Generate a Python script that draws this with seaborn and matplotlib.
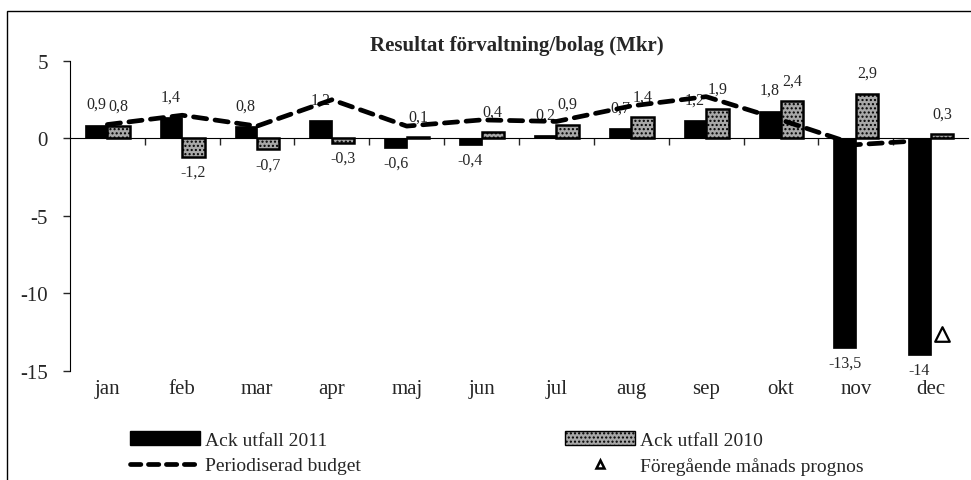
import pandas as pd
import matplotlib
matplotlib.use("Agg")
import matplotlib.pyplot as plt
import seaborn as sns
from matplotlib.patches import Patch, Rectangle
from matplotlib.lines import Line2D

# data
months = ['jan', 'feb', 'mar', 'apr', 'maj', 'jun', 'jul', 'aug', 'sep', 'okt', 'nov', 'dec']
utfall_2011 = [0.9, 1.4, 0.8, 1.2, -0.6, -0.4, 0.2, 0.7, 1.2, 1.8, -13.5, -14]
utfall_2010 = [0.8, -1.2, -0.7, -0.3, 0.1, 0.4, 0.9, 1.4, 1.9, 2.4, 2.9, 0.3]
budget = [0.9, 1.5, 0.8, 2.5, 0.8, 1.2, 1.1, 2.1, 2.7, 1.2, -0.4, -0.1]
prognos_month = ['dec']
prognos_value = [-12.6]

series = ['Ack utfall 2011', 'Ack utfall 2010']

df = pd.DataFrame({
    'month': months * 2,
    'serie': [series[0]] * 12 + [series[1]] * 12,
    'value': utfall_2011 + utfall_2010,
})

sns.set_style('white')
plt.rcParams['font.family'] = ['Liberation Serif', 'DejaVu Serif']

fig = plt.figure(figsize=(9.71, 4.81), dpi=100)
ax = fig.add_axes([0.072, 0.227, 0.925, 0.644])

sns.barplot(data=df, x='month', y='value', hue='serie', hue_order=series,
            palette=['black', '#a8a8a8'], width=0.6, gap=0, ax=ax,
            legend=False, saturation=1, zorder=2)

# 2011 bars solid black, 2010 bars speckled grey with black frame
for bar in ax.containers[0]:
    bar.set_edgecolor('black')
    bar.set_linewidth(0.5)
for bar in ax.containers[1]:
    bar.set_edgecolor('black')
    bar.set_linewidth(1.8)
    bar.set_hatch('....')

def fmt(v):
    s = ('%.1f' % v).replace('.', ',')
    if s.endswith(',0'):
        s = s[:-2]
    return s

for cont, vals in zip(ax.containers[:2], [utfall_2011, utfall_2010]):
    ax.bar_label(cont, labels=[fmt(v) if v >= 0 else '' for v in vals], padding=9, fontsize=11.5)
    ax.bar_label(cont, labels=[fmt(v) if v < 0 else '' for v in vals], padding=5, fontsize=11.5)

# periodiserad budget
sns.lineplot(x=months, y=budget, ax=ax, color='black', linewidth=3.4,
             zorder=4, sort=False)
ax.lines[-1].set_dashes((2.8, 1.8))
ax.lines[-1].set_dash_capstyle('round')

# föregående månads prognos (sits on the 2010 bar position)
pos = [months.index(m) + 0.15 for m in prognos_month]
ax.scatter(pos, prognos_value, marker='^', s=110, facecolor='white',
           edgecolor='black', linewidth=1.6, zorder=1.5)

ax.set_ylim(-15, 5)
ax.set_xlim(-0.5, 11.5)
ax.set_yticks([-15, -10, -5, 0, 5])
ax.set_yticklabels(['-15', '-10', '-5', '0', '5'], fontsize=15)
ax.tick_params(axis='y', left=True, direction='out', length=5, width=1, pad=11)
ax.set_xlabel('')
ax.set_ylabel('')

# zero line with category separators, month labels at the bottom
for s in ['top', 'right']:
    ax.spines[s].set_visible(False)
ax.spines['left'].set_color('black')
ax.spines['bottom'].set_position(('data', 0))
ax.spines['bottom'].set_color('black')
ax.set_xticks([i + 0.5 for i in range(11)])
ax.set_xticklabels([])
ax.tick_params(axis='x', bottom=True, direction='out', length=5, width=1)

sec = ax.secondary_xaxis('bottom')
sec.set_xticks(range(12))
sec.set_xticklabels(months, fontsize=15)
sec.tick_params(length=0, pad=6)
sec.spines['bottom'].set_visible(False)

fig.text(0.532, 0.905, 'Resultat förvaltning/bolag (Mkr)', ha='center',
         va='center', fontsize=15, fontweight='bold')

handles = [
    Patch(facecolor='black', edgecolor='black'),
    Line2D([], [], color='black', linewidth=3.4, dashes=(2.2, 1.6), dash_capstyle='round'),
    Patch(facecolor='#a8a8a8', edgecolor='black', hatch='....'),
    Line2D([], [], linestyle='none', marker='^', markersize=6, markerfacecolor='white',
           markeredgecolor='black', markeredgewidth=1.8),
]
labels = ['Ack utfall 2011', 'Periodiserad budget', 'Ack utfall 2010', 'Föregående månads prognos']
fig.legend(handles, labels, ncol=2, loc='center', bbox_to_anchor=(0.512, 0.056),
           frameon=False, fontsize=14, handlelength=3.6, handletextpad=0.26,
           columnspacing=10.5, labelspacing=0.4, handleheight=0.7)

fig.add_artist(Rectangle((0.007, -0.01), 1.0, 0.985, transform=fig.transFigure,
                         fill=False, edgecolor='black', linewidth=1))

fig.savefig('out.png', dpi=100)
